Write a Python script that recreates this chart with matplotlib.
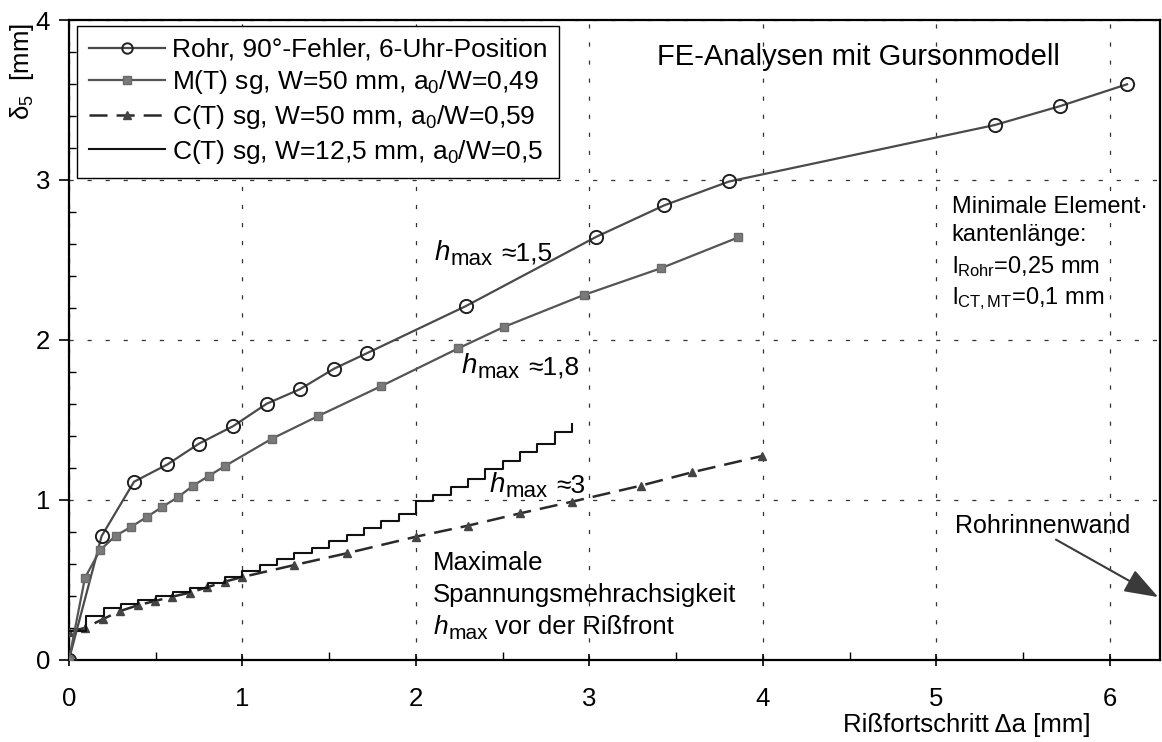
import numpy as np
import matplotlib
matplotlib.use("Agg")
import matplotlib.pyplot as plt
from matplotlib.ticker import MultipleLocator

plt.rcParams['font.family'] = ['Liberation Sans', 'DejaVu Sans']
plt.rcParams['mathtext.fontset'] = 'custom'
plt.rcParams['mathtext.rm'] = 'Liberation Sans'
plt.rcParams['mathtext.it'] = 'Liberation Sans:italic'
plt.rcParams['mathtext.bf'] = 'Liberation Sans:bold'
plt.rcParams['lines.scale_dashes'] = False

# ---- data ----
rohr_x = [0, 0.188, 0.375, 0.567, 0.749, 0.947, 1.14, 1.33, 1.53, 1.716, 2.287, 3.04, 3.43, 3.806, 5.337, 5.716, 6.10]
rohr_y = [0, 0.772, 1.112, 1.22, 1.35, 1.46, 1.60, 1.69, 1.82, 1.915, 2.21, 2.644, 2.84, 2.99, 3.343, 3.462, 3.598]

mt_x = [0, 0.092, 0.179, 0.269, 0.357, 0.448, 0.537, 0.629, 0.715, 0.807, 0.899, 1.168, 1.437, 1.80, 2.244, 2.507, 2.968, 3.412, 3.858]
mt_y = [0, 0.511, 0.684, 0.774, 0.829, 0.891, 0.954, 1.016, 1.087, 1.149, 1.21, 1.38, 1.523, 1.71, 1.946, 2.08, 2.28, 2.447, 2.64]

ct50_x = [0, 0.092, 0.196, 0.294, 0.40, 0.496, 0.595, 0.697, 0.797, 0.899, 1.0, 1.30, 1.60, 2.0, 2.30, 2.60, 2.90, 3.295, 3.592, 3.996]
ct50_y = [0.175, 0.197, 0.253, 0.303, 0.34, 0.366, 0.393, 0.418, 0.452, 0.487, 0.516, 0.591, 0.664, 0.768, 0.837, 0.914, 0.987, 1.087, 1.171, 1.273]

ct12_x = [0, 0.1, 0.2, 0.3, 0.4, 0.5, 0.6, 0.7, 0.8, 0.9, 1.0, 1.1, 1.2, 1.3, 1.4, 1.5,
          1.6, 1.7, 1.8, 1.9, 2.0, 2.1, 2.2, 2.3, 2.4, 2.5, 2.6, 2.7, 2.8, 2.9]
ct12_y = [0.18, 0.27, 0.32, 0.345, 0.37, 0.395, 0.42, 0.45, 0.48, 0.515, 0.555, 0.59, 0.63, 0.665, 0.70, 0.74,
          0.78, 0.82, 0.865, 0.91, 0.99, 1.03, 1.08, 1.13, 1.19, 1.24, 1.30, 1.35, 1.42, 1.47]

labels = ["Rohr, 90°-Fehler, 6-Uhr-Position",
          "M(T) sg, W=50 mm, a$_0$/W=0,49",
          "C(T) sg, W=50 mm, a$_0$/W=0,59",
          "C(T) sg, W=12,5 mm, a$_0$/W=0,5"]

xticks = [0, 1, 2, 3, 4, 5, 6]
yticks = [0, 1, 2, 3, 4]

W, H = 1162, 742
fig = plt.figure(figsize=(W / 100, H / 100), dpi=100)
ax = fig.add_axes([69 / W, (H - 659.5) / H, (1160 - 69) / W, (659.5 - 20) / H])
ax.set_xlim(0, 6.29)
ax.set_ylim(0, 4)

ax.plot(rohr_x, rohr_y, color='#4a4a4a', lw=1.6, marker='o', ms=9.5, mfc='none',
        mec='#202020', mew=1.4, label=labels[0], zorder=4)
ax.plot(mt_x, mt_y, color='#555555', lw=1.6, marker='s', ms=6, mfc='#7a7a7a',
        mec='#6a6a6a', label=labels[1], zorder=4)
l3, = ax.plot(ct50_x, ct50_y, color='#2a2a2a', lw=1.8, marker='^', ms=6, mfc='#444444',
              mec='#444444', label=labels[2], zorder=3)
l3.set_dashes([13, 6.5])
ax.plot(ct12_x, ct12_y, color='#111111', lw=1.5, drawstyle='steps-post', label=labels[3], zorder=3)

# axes styling
for s in ax.spines.values():
    s.set_linewidth(1.6)
ax.set_xticks(xticks)
ax.set_yticks(yticks)
ax.xaxis.set_minor_locator(MultipleLocator(0.5))
ax.yaxis.set_minor_locator(MultipleLocator(0.2))
ax.tick_params(axis='x', which='major', direction='inout', length=8, width=1.2, pad=16, labelsize=18.5)
ax.tick_params(axis='x', which='minor', direction='in', length=6, width=1.0)
ax.tick_params(axis='y', which='major', direction='out', length=7, width=1.2, pad=6.5, labelsize=18.5)
ax.tick_params(axis='y', which='minor', direction='in', length=5, width=1.0)
ax.grid(True, which='major', color='#333333', lw=0.9, linestyle=(0, (3, 10)))
ax.set_axisbelow(True)

# axis labels
ax.text(-0.043, 0.92, r"$\mathrm{δ}_{5}$  [mm]", transform=ax.transAxes, rotation=90,
        ha='center', va='center', fontsize=18.5)
ax.text(0.823, -0.113, "Rißfortschritt Δa [mm]", transform=ax.transAxes,
        ha='center', va='baseline', fontsize=18.5, clip_on=False)

# legend
leg = ax.legend(loc='upper left', bbox_to_anchor=(0.0073, 0.9906), borderaxespad=0,
                fontsize=19, frameon=True, fancybox=False, edgecolor='black', framealpha=1,
                handlelength=2.9, handletextpad=0.25, borderpad=0.45, labelspacing=0.25,
                numpoints=1)
leg.get_frame().set_linewidth(1.0)
for h in leg.legend_handles:
    if h.get_marker() == 'o':
        h.set_markersize(7.5)


def hmax_text(x, y, rest, fs_h, fs_sub, fs_rest, gap):
    t1 = ax.text(x, y, 'h', fontsize=fs_h, style='italic', ha='left', va='baseline')
    t2 = ax.annotate('max', xy=(1, 0), xycoords=t1, xytext=(0.5, -3.0),
                     textcoords='offset points', fontsize=fs_sub, ha='left', va='bottom')
    ax.annotate(rest, xy=(1, 0), xycoords=t2, xytext=(gap, 3.0),
                textcoords='offset points', fontsize=fs_rest, ha='left', va='bottom')


# annotations
ax.text(5.71, 3.718, "FE-Analysen mit Gursonmodell", ha='right', va='baseline', fontsize=21)
hmax_text(2.11, 2.50, "≈1,5", 20, 16, 19, 6)
hmax_text(2.263, 1.79, "≈1,8", 20, 16, 19, 6)
hmax_text(2.426, 1.05, "≈3", 20, 16, 19, 6)

fs = 18.5
ax.text(2.10, 0.56, "Maximale", ha='left', va='baseline', fontsize=fs)
ax.text(2.10, 0.361, "Spannungsmehrachsigkeit", ha='left', va='baseline', fontsize=fs)
hmax_text(2.10, 0.158, "vor der Rißfront", 19, 15, 18.5, 5)

fs2 = 17
ax.text(5.09, 2.79, "Minimale Element·", ha='left', va='baseline', fontsize=fs2)
ax.text(5.09, 2.615, "kantenlänge:", ha='left', va='baseline', fontsize=fs2)
ax.text(5.09, 2.42, r"l$_{\mathrm{Rohr}}$=0,25 mm", ha='left', va='baseline', fontsize=fs2)
ax.text(5.09, 2.225, r"l$_{\mathrm{CT,MT}}$=0,1 mm", ha='left', va='baseline', fontsize=fs2)

ax.text(5.106, 0.79, "Rohrinnenwand", ha='left', va='baseline', fontsize=18)
ax.annotate('', xy=(6.28, 0.39), xytext=(5.69, 0.75),
            arrowprops=dict(arrowstyle='-|>,head_length=0.7,head_width=0.25', color='#3a3a3a',
                            lw=1.5, mutation_scale=30, shrinkA=0, shrinkB=0))

fig.savefig('out.png', dpi=100)
